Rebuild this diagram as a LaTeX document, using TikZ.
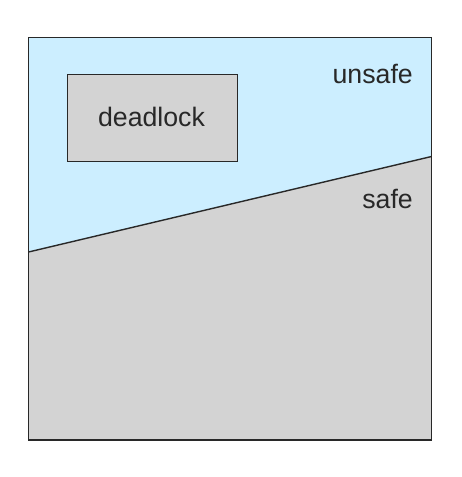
\documentclass[tikz,border=0pt]{standalone}
\usepackage{fontspec}
\setmainfont{Liberation Sans}
\definecolor{unsafeblue}{RGB}{204,238,255}
\definecolor{safegray}{RGB}{211,211,211}
\definecolor{edge}{RGB}{40,40,40}
\begin{document}
\begin{tikzpicture}[x=1pt,y=-1pt,
  lbl/.style={font=\fontsize{26.7}{30}\selectfont, text=edge, inner sep=0pt},
  region/.style={draw=edge, line width=1.4pt}]
\useasboundingbox (0,0) rectangle (461,477);
% corners
\coordinate (tl) at (28.5,37.5);
\coordinate (tr) at (431.5,37.5);
\coordinate (br) at (431.5,440);
\coordinate (bl) at (28.5,440);
\coordinate (sl) at (28.5,252);
\coordinate (sr) at (431.5,156.5);
% regions
\fill[unsafeblue] (tl) -- (tr) -- (sr) -- (sl) -- cycle;
\fill[safegray] (sl) -- (sr) -- (br) -- (bl) -- cycle;
\draw[region] (sl) -- (sr);
\draw[region] (tl) -- (tr) -- (br) -- (bl) -- cycle;
% deadlock box
\node[region, fill=safegray, minimum width=170pt, minimum height=87pt, inner sep=0pt, anchor=north west] (dl) at (66.7,73.5) {};
\node[lbl, anchor=base] (dltext) at (151.5,126.5) {deadlock};
% labels
\node[lbl, anchor=base east] (unsafe) at (413,83) {unsafe};
\node[lbl, anchor=base east] (safe) at (413,208) {safe};
\end{tikzpicture}
\end{document}
